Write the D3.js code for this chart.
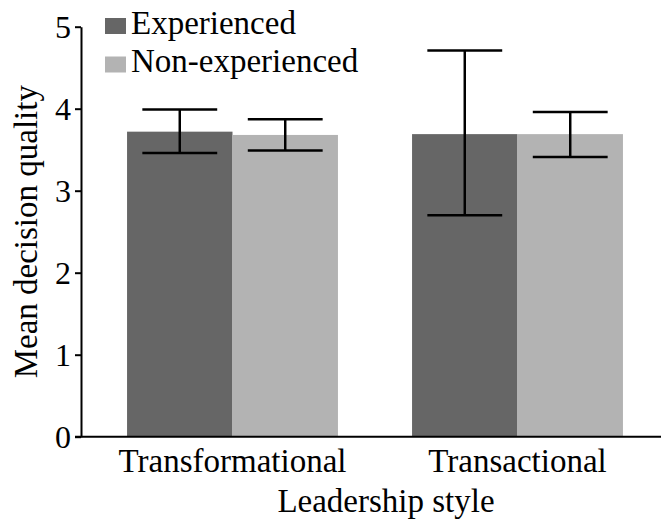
<!DOCTYPE html>
<html>
<head>
<meta charset="utf-8">
<script src="https://cdn.jsdelivr.net/npm/d3@7"></script>
<style>
  body { margin: 0; }
  svg { font-family: 'Times New Roman'; }
  svg text { font-family: 'Times New Roman'; fill: #000; }
</style>
</head>
<body>
<div class="chart"></div>
<script>
var values = { width: 661, height: 527 };

// leadership style categories and the two groups
var categories = ["Transformational", "Transactional"];
var groups = ["Experienced", "Non-experienced"];

// means and error bar ends
var experiencedMean = [3.72, 3.69];
var experiencedLow = [3.46, 2.70];
var experiencedHigh = [3.99, 4.71];
var nonExpMean = [3.68, 3.69];
var nonExpLow = [3.49, 3.41];
var nonExpHigh = [3.87, 3.96];

var yTicks = [0, 1, 2, 3, 4, 5];

var colors = ["#666666", "#b3b3b3"];

var data = [];
categories.forEach((c, i) => {
  data.push({ cat: c, group: groups[0], mean: experiencedMean[i], low: experiencedLow[i], high: experiencedHigh[i] });
  data.push({ cat: c, group: groups[1], mean: nonExpMean[i], low: nonExpLow[i], high: nonExpHigh[i] });
});

var svg = d3.select('.chart')
  .append('svg')
  .attr("width", values.width)
  .attr("height", values.height)
  .attr("font-family", "Times New Roman");

// scales
var x = d3.scaleBand()
  .domain(categories)
  .range([90, 660])
  .paddingInner(0.26)
  .paddingOuter(0.13);

var xg = d3.scaleBand()
  .domain(groups)
  .range([0, x.bandwidth()]);

var y = d3.scaleLinear()
  .domain([0, 5])
  .range([436.7, 26.7]);

var color = d3.scaleOrdinal().domain(groups).range(colors);

// bars
svg.append("g").selectAll("rect")
  .data(data)
  .enter()
  .append("rect")
  .attr("x", d => x(d.cat) + xg(d.group))
  .attr("y", d => y(d.mean))
  .attr("width", xg.bandwidth())
  .attr("height", d => y(0) - y(d.mean))
  .style("fill", d => color(d.group));

// error bars
var capW = xg.bandwidth() * 0.71;
var err = svg.append("g")
  .attr("stroke", "#000")
  .attr("stroke-width", 2.5)
  .selectAll("g")
  .data(data)
  .enter()
  .append("g")
  .attr("transform", d => "translate(" + (x(d.cat) + xg(d.group) + xg.bandwidth() / 2) + ",0)");

err.append("line")
  .attr("x1", 0).attr("x2", 0)
  .attr("y1", d => y(d.low))
  .attr("y2", d => y(d.high));
err.append("line")
  .attr("x1", -capW / 2).attr("x2", capW / 2)
  .attr("y1", d => y(d.high)).attr("y2", d => y(d.high));
err.append("line")
  .attr("x1", -capW / 2).attr("x2", capW / 2)
  .attr("y1", d => y(d.low)).attr("y2", d => y(d.low));

// y axis
var yAxis = d3.axisLeft(y)
  .tickValues(yTicks)
  .tickFormat(d3.format("d"))
  .tickSize(6)
  .tickSizeOuter(0)
  .tickPadding(4);

var yg = svg.append("g")
  .attr("transform", "translate(81,0)")
  .call(yAxis)
  .attr("font-family", null)
  .attr("font-size", 32);
yg.selectAll("path, line").attr("stroke", "#000").attr("stroke-width", 2);
yg.selectAll("text").attr("dy", "0.34em");

// x axis
var xAxis = d3.axisBottom(x).tickSize(0).tickPadding(12);
var xgAxis = svg.append("g")
  .attr("transform", "translate(0," + y(0) + ")")
  .call(xAxis)
  .attr("font-family", null)
  .attr("font-size", 33);
xgAxis.select(".domain").remove();

svg.append("line")
  .attr("x1", 75).attr("x2", values.width)
  .attr("y1", y(0)).attr("y2", y(0))
  .attr("stroke", "#000")
  .attr("stroke-width", 2);

// axis titles
svg.append("text")
  .attr("x", 386)
  .attr("y", 512)
  .attr("text-anchor", "middle")
  .attr("font-size", 33)
  .text("Leadership style");

svg.append("text")
  .attr("transform", "translate(37," + ((y(0) + y(5)) / 2) + ") rotate(-90)")
  .attr("text-anchor", "middle")
  .attr("font-size", 33)
  .text("Mean decision quality");

// legend
var legend = svg.append("g").selectAll("g")
  .data(groups)
  .enter()
  .append("g")
  .attr("transform", (d, i) => "translate(105," + (18 + i * 38.5) + ")");

legend.append("rect")
  .attr("width", 21)
  .attr("height", 16)
  .style("fill", d => color(d));

legend.append("text")
  .attr("x", 26)
  .attr("y", 15.5)
  .attr("font-size", 33)
  .text(d => d);
</script>
</body>
</html>
